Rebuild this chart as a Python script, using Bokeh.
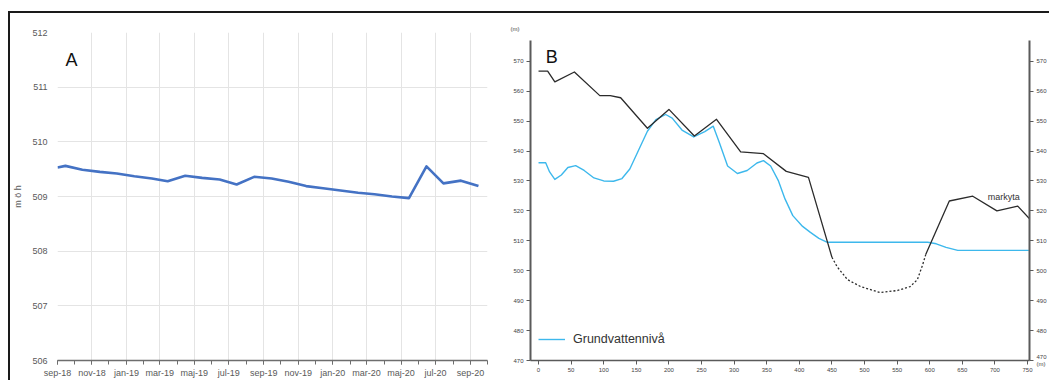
import pandas as pd
from bokeh.plotting import figure
from bokeh.layouts import row
from bokeh.models import (FixedTicker, CustomJSTickFormatter, LinearAxis, Label,
                          Legend, LegendItem, Range1d)
from bokeh.embed import file_html
from bokeh.resources import INLINE

# ---------------- Panel A data ----------------
a_datum = ["2018-09-01", "2018-09-15", "2018-10-15", "2018-11-15", "2018-12-15",
           "2019-01-15", "2019-02-15", "2019-03-15", "2019-04-15", "2019-05-15",
           "2019-06-15", "2019-07-15", "2019-08-15", "2019-09-15", "2019-10-15",
           "2019-11-15", "2019-12-15", "2020-01-15", "2020-02-15", "2020-03-15",
           "2020-04-15", "2020-05-15", "2020-06-15", "2020-07-15", "2020-08-15",
           "2020-09-15"]
a_niva = [509.53, 509.56, 509.49, 509.45, 509.42, 509.37, 509.33, 509.28, 509.38,
          509.34, 509.31, 509.22, 509.36, 509.33, 509.27, 509.19, 509.15, 509.11,
          509.07, 509.04, 509.00, 508.97, 509.55, 509.24, 509.29, 509.19]
a_tick_dates = ["2018-09-01", "2018-11-01", "2019-01-01", "2019-03-01", "2019-05-01",
                "2019-07-01", "2019-09-01", "2019-11-01", "2020-01-01", "2020-03-01",
                "2020-05-01", "2020-07-01", "2020-09-01"]
a_yticks = [506, 507, 508, 509, 510, 511, 512]

# ---------------- Panel B data ----------------
b_gv_x = [0, 11, 17, 25, 35, 45, 57, 70, 85, 100, 115, 128, 140, 155, 167, 180, 195,
          205, 220, 238, 255, 268, 277, 290, 305, 320, 335, 345, 356, 368, 378, 390,
          405, 417, 430, 443, 597, 610, 625, 643, 752]
b_gv_y = [536.1, 536.1, 533.0, 530.5, 532.0, 534.5, 535.1, 533.5, 531.0, 530.0, 529.9,
          530.8, 534.0, 541.0, 546.6, 550.5, 552.2, 551.0, 547.0, 544.7, 546.5, 548.3,
          543.0, 535.0, 532.5, 533.5, 536.0, 536.8, 535.0, 530.0, 524.0, 518.4, 514.8,
          512.8, 510.8, 509.5, 509.5, 509.0, 507.8, 506.8, 506.8]
nan = float("nan")
b_mark_x = [0, 14, 25, 55, 94, 110, 126, 167, 200, 239, 273, 310, 330, 345, 380, 414,
            450, nan, 594, 630, 666, 703, 735, 759]
b_mark_y = [566.7, 566.7, 563.1, 566.4, 558.5, 558.5, 557.8, 547.6, 553.9, 545.0,
            550.6, 539.7, 539.4, 539.1, 533.2, 531.2, 504.5, nan, 505.5, 523.3, 524.9,
            520.0, 521.6, 516.0]
b_streck_x = [450, 458, 474, 494, 524, 551, 570, 581, 589, 594]
b_streck_y = [504.5, 501.3, 497.0, 494.7, 492.7, 493.4, 494.7, 497.0, 501.9, 505.5]
b_xticks = [0, 50, 100, 150, 200, 250, 300, 350, 400, 450, 500, 550, 600, 650, 700, 750]
b_yticks = [470, 480, 490, 500, 510, 520, 530, 540, 550, 560, 570]
b_enhet = "(m)"

FONT = "Liberation Sans"
GRAY = "#595959"


def to_ms(dates):
    return (pd.to_datetime(dates).asi8 // 10**6).tolist()


# ---------------- Panel A ----------------
pa = figure(width=495, height=367, x_axis_type="datetime",
            x_range=Range1d(to_ms(["2018-09-01"])[0], to_ms(["2020-10-01"])[0]),
            y_range=Range1d(506, 512),
            output_backend="svg", toolbar_location=None,
            min_border_left=44, min_border_top=19, min_border_right=18,
            min_border_bottom=0)
pa.outline_line_color = None
pa.background_fill_color = "white"
pa.border_fill_color = "white"

pa.line(to_ms(a_datum), a_niva, line_color="#4472C4", line_width=2.6,
        line_join="round")

minor = to_ms(pd.date_range("2018-09-01", "2020-10-01", freq="MS"))
xt = FixedTicker(ticks=to_ms(a_tick_dates), minor_ticks=minor)
pa.xaxis.ticker = xt
pa.xgrid.ticker = xt
pa.xaxis.formatter = CustomJSTickFormatter(code="""
const m = ["jan","feb","mar","apr","maj","jun","jul","aug","sep","okt","nov","dec"];
const d = new Date(tick);
return m[d.getUTCMonth()] + "-" + String(d.getUTCFullYear()).slice(2);
""")
pa.xaxis.axis_line_color = "#6e6e6e"
pa.xaxis.axis_line_width = 1.6
pa.xaxis.major_tick_line_color = "#6e6e6e"
pa.xaxis.minor_tick_line_color = "#6e6e6e"
pa.xaxis.major_tick_out = 4
pa.xaxis.major_tick_in = 0
pa.xaxis.minor_tick_out = 4
pa.xaxis.minor_tick_in = 0
pa.xaxis.major_label_text_font = FONT
pa.xaxis.major_label_text_font_size = "9px"
pa.xaxis.major_label_text_color = GRAY
pa.xaxis.major_label_standoff = 3

pa.yaxis.ticker = FixedTicker(ticks=a_yticks)
pa.yaxis.axis_line_color = None
pa.yaxis.major_tick_line_color = None
pa.yaxis.minor_tick_line_color = None
pa.yaxis.major_tick_out = 0
pa.yaxis.major_tick_in = 0
pa.yaxis.minor_tick_out = 0
pa.yaxis.minor_tick_in = 0
pa.yaxis.major_label_text_font = FONT
pa.yaxis.major_label_text_font_size = "9px"
pa.yaxis.major_label_text_color = GRAY
pa.yaxis.major_label_standoff = 10
pa.yaxis.axis_label = "m ö h"
pa.yaxis.axis_label_text_font = FONT
pa.yaxis.axis_label_text_font_size = "9px"
pa.yaxis.axis_label_text_font_style = "normal"
pa.yaxis.axis_label_text_color = GRAY
pa.yaxis.axis_label_standoff = 6

pa.xgrid.grid_line_color = "#e4e4e4"
pa.ygrid.grid_line_color = "#e4e4e4"
pa.ygrid.ticker = FixedTicker(ticks=a_yticks)

pa.add_layout(Label(x=to_ms(["2018-09-15"])[0], y=511.5, text="A",
                    text_font=FONT, text_font_size="18px", text_color="#111111",
                    text_baseline="middle"))

# ---------------- Panel B ----------------
pb = figure(width=544, height=367, x_range=Range1d(-12.3, 753),
            y_range=Range1d(470, 579.6),
            output_backend="svg", toolbar_location=None,
            min_border_left=25, min_border_top=19, min_border_right=0,
            min_border_bottom=0)
pb.outline_line_color = None
pb.grid.visible = False
pb.border_fill_color = "white"
pb.title.text = b_enhet
pb.title.align = "left"
pb.title.offset = -20
pb.title.standoff = 2
pb.title.text_font = FONT
pb.title.text_font_size = "6px"
pb.title.text_font_style = "normal"
pb.title.text_color = "#444444"

gv = pb.line(b_gv_x, b_gv_y, line_color="#3DB8EC", line_width=1.4, line_join="round")
pb.line(b_mark_x, b_mark_y, line_color="#2b2b2b", line_width=1.3, line_join="round")
pb.line(b_streck_x, b_streck_y, line_color="#2b2b2b", line_width=1.3,
        line_dash="2 2")

AX = "#5a5a5a"
pb.xaxis.ticker = FixedTicker(ticks=b_xticks)
pb.yaxis.ticker = FixedTicker(ticks=b_yticks)
for ax in [pb.xaxis[0], pb.yaxis[0]]:
    ax.axis_line_color = AX
    ax.major_tick_line_color = AX
    ax.minor_tick_line_color = None
    ax.major_tick_out = 4
    ax.major_tick_in = 0
    ax.minor_tick_out = 0
    ax.minor_tick_in = 0
    ax.major_label_text_font = FONT
    ax.major_label_text_font_size = "6px"
    ax.major_label_text_color = "#444444"
    ax.major_label_standoff = 3
pb.yaxis.axis_line_width = 2
pb.yaxis.bounds = (470, 577)
pb.xaxis.axis_line_width = 1.6

ry = LinearAxis(ticker=FixedTicker(ticks=b_yticks), axis_line_color=AX,
                axis_line_width=2, major_tick_line_color=AX, minor_tick_line_color=None,
                major_tick_out=4, major_tick_in=0, minor_tick_out=0, minor_tick_in=0,
                major_label_text_font=FONT, bounds=(470, 577),
                major_label_text_font_size="6px", major_label_text_color="#444444",
                major_label_standoff=3,
                major_label_overrides={b_yticks[0]: f"{b_yticks[0]}\n{b_enhet}"})
pb.add_layout(ry, "right")

pb.add_layout(Label(x=11, y=571.3, text="B", text_font=FONT, text_font_size="18px",
                    text_color="#111111", text_baseline="middle"))
pb.add_layout(Label(x=689, y=524.6, text="markyta", text_font=FONT,
                    text_font_size="9px", text_color="#333333",
                    text_baseline="middle"))

leg = Legend(items=[LegendItem(label="Grundvattennivå", renderers=[gv])],
             location=(8, 14), border_line_color=None, background_fill_alpha=0,
             padding=0, margin=0, glyph_width=27, glyph_height=12, label_standoff=8,
             label_text_font=FONT, label_text_font_size="12.5px",
             label_text_color="#333333")
pb.add_layout(leg)

layout = row(pa, pb, margin=(11, 0, 0, 8),
             styles={"border-top": "2px solid #1a1a1a",
                     "border-left": "2px solid #1a1a1a"})

open("out.html", "w").write(file_html(layout, INLINE))
